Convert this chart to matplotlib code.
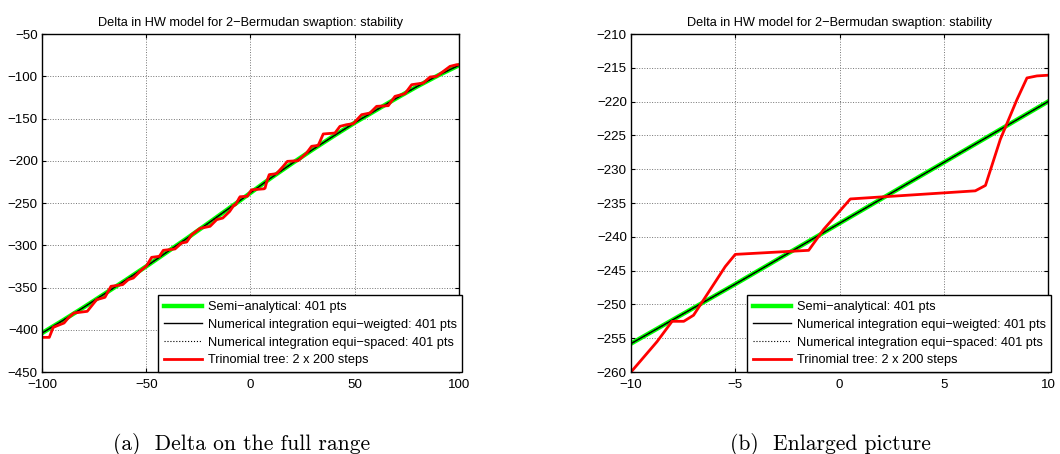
import matplotlib
matplotlib.use("Agg")
import matplotlib.pyplot as plt

plt.rcParams['font.family'] = ['Liberation Sans', 'DejaVu Sans']

# shift of the short rate (bp) and delta values
semi_x = [-100, -90, -80, -70, -60, -50, -40, -30, -20, -10, -5, 0,
          5, 10, 20, 30, 40, 50, 60, 70, 80, 90, 100]
semi_y = [-404, -389, -373.5, -357.5, -341.5, -325, -308, -291, -273.5,
          -255.8, -247, -238, -229, -220, -203, -186.5, -170.5, -155,
          -140.5, -126, -112, -99, -87]

# numerical integration curves lie on top of the semi-analytical one
numw_y = list(semi_y)
nums_y = list(semi_y)

tree_x = [-100.0, -96.5, -94.6, -89.4, -87.4, -84.7, -78.3, -73.8, -69.8,
          -66.9, -61.3, -58.6, -56.2, -53.0, -49.8, -47.4, -43.7, -41.8,
          -36.2, -33.0, -30.6, -28.2, -24.2, -19.4, -16.2, -13.3,
          -10.0, -8.75, -8.03, -7.47, -7.0, -5.48, -5.0, -1.48, -0.76, 0.52,
          6.51, 7.0, 7.71, 8.51, 8.99, 9.47, 10.0,
          12.5, 15.7, 17.7, 22.9, 26.9, 29.3, 32.5, 34.9, 40.5, 42.9, 46.1,
          49.3, 53.3, 57.3, 60.5, 66.1, 69.3, 74.1, 77.3, 82.9, 86.1, 89.3,
          92.5, 95.7, 98.9, 100.0]
tree_y = [-409.0, -409.0, -397.1, -392.0, -386.1, -380.2, -378.2, -364.4,
          -361.6, -348.6, -346.6, -340.7, -338.8, -330.9, -324.2, -314.3,
          -313.1, -306.0, -304.4, -297.3, -296.2, -287.5, -280.0, -277.6,
          -269.7, -267.8,
          -260.0, -255.5, -252.5, -252.5, -251.6, -244.4, -242.6, -242.0,
          -238.9, -234.4, -233.2, -232.4, -225.6, -219.7, -216.5, -216.2,
          -216.1,
          -215.3, -206.6, -200.7, -199.9, -190.8, -182.9, -181.8, -168.3,
          -167.2, -159.3, -157.3, -156.1, -145.5, -143.5, -135.6, -134.8,
          -123.8, -120.6, -110.0, -108.0, -100.9, -100.1, -94.2, -88.3,
          -86.3, -86.3]

TITLE = "Delta in HW model for 2\u2212Bermudan swaption: stability"
LABELS = ["Semi\u2212analytical: 401 pts",
          "Numerical integration equi\u2212weigted: 401 pts",
          "Numerical integration equi\u2212spaced: 401 pts",
          "Trinomial tree: 2 x 200 steps"]

panels = [
    dict(rect=[0.0396, 0.1806, 0.3934, 0.7445], xlim=(-100, 100),
         ylim=(-450, -50), xticks=range(-100, 101, 50),
         yticks=range(-450, -49, 50),
         caption="(a)  Delta on the full range", cx=0.228),
    dict(rect=[0.5953, 0.1806, 0.3934, 0.7445], xlim=(-10, 10),
         ylim=(-260, -210), xticks=range(-10, 11, 5),
         yticks=range(-260, -209, 5),
         caption="(b)  Enlarged picture", cx=0.783),
]

fig = plt.figure(figsize=(10.6, 4.54), dpi=100)
for p in panels:
    ax = fig.add_axes(p["rect"])
    ax.plot(semi_x, semi_y, color="#00ff00", lw=3.2, label=LABELS[0])
    ax.plot(semi_x, numw_y, color="black", lw=1.0, label=LABELS[1])
    ax.plot(semi_x, nums_y, color="black", lw=0.8, ls=":", label=LABELS[2])
    ax.plot(tree_x, tree_y, color="red", lw=2.0, label=LABELS[3])
    ax.set_xlim(*p["xlim"])
    ax.set_ylim(*p["ylim"])
    ax.set_xticks(list(p["xticks"]))
    ax.set_yticks(list(p["yticks"]))
    ax.grid(True, color="0.45", ls=":", lw=0.7)
    ax.tick_params(direction="in", top=True, right=True, labelsize=9.6,
                   length=3)
    ax.tick_params(axis="x", pad=5)
    ax.tick_params(axis="y", pad=3)
    for s in ax.spines.values():
        s.set_linewidth(1.0)
    ax.set_title(TITLE, fontsize=9.2, pad=6)
    leg = ax.legend(loc="lower right", bbox_to_anchor=(1.008, 0.0),
                    fontsize=9.2, frameon=True, fancybox=False,
                    edgecolor="black", framealpha=1, borderaxespad=0,
                    handlelength=3.0, handletextpad=0.4, labelspacing=0.45,
                    borderpad=0.45)
    leg.get_frame().set_linewidth(1.0)
    fig.text(p["cx"], 0.022, p["caption"], ha="center", va="center",
             family="cmr10", fontsize=15.5)

fig.savefig("out.png", dpi=100)
